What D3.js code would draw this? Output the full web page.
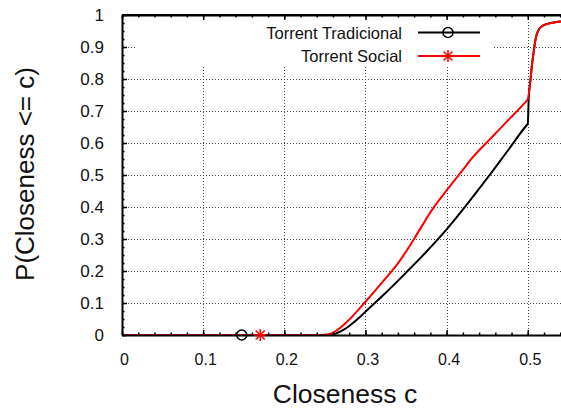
<!DOCTYPE html>
<html>
<head>
<meta charset="utf-8">
<script src="https://cdn.jsdelivr.net/npm/d3@7"></script>
<style>
	body { margin: 0; background: #fff; }
	text { font-family: "Liberation Sans", Arial, Helvetica, sans-serif; fill: #111; }
</style>
</head>
<body>
<script>
// CDF of closeness, gnuplot style
const width = 561;
const height = 408;
const plot = {left: 122, top: 15, bottom: 335, pxPerUnit: 811.6};

const xTicks = [0, 0.1, 0.2, 0.3, 0.4, 0.5];
const yTicks = [0, 0.1, 0.2, 0.3, 0.4, 0.5, 0.6, 0.7, 0.8, 0.9, 1];

const seriesNames = ['Torrent Tradicional', 'Torrent Social'];
const seriesColors = ['#000000', '#ff0000'];

const tradX = [0, 0.25, 0.258, 0.27, 0.28, 0.29, 0.3, 0.325, 0.35, 0.375, 0.4, 0.425, 0.45, 0.475, 0.499, 0.5, 0.5012, 0.503, 0.505, 0.507, 0.51, 0.513, 0.518, 0.525, 0.535, 0.55, 0.58];
const tradY = [0, 0, 0.001, 0.012, 0.028, 0.049, 0.073, 0.132, 0.195, 0.26, 0.33, 0.408, 0.49, 0.575, 0.657, 0.66, 0.745, 0.79, 0.84, 0.88, 0.93, 0.952, 0.966, 0.973, 0.978, 0.981, 0.982];

const socialX = [0, 0.245, 0.25, 0.256, 0.265, 0.28, 0.3, 0.32, 0.342, 0.36, 0.383, 0.4, 0.42, 0.431, 0.45, 0.475, 0.499, 0.5, 0.503, 0.505, 0.507, 0.51, 0.513, 0.518, 0.525, 0.535, 0.55, 0.58];
const socialY = [0, 0, 0.001, 0.003, 0.015, 0.048, 0.104, 0.163, 0.231, 0.301, 0.395, 0.452, 0.516, 0.552, 0.603, 0.669, 0.733, 0.736, 0.79, 0.84, 0.88, 0.93, 0.952, 0.966, 0.973, 0.978, 0.981, 0.982];

// single point markers shown on each curve
const markerX = [0.1475, 0.1703];
const markerY = [0, 0];

const svg = d3.select('body')
	.append('svg')
	.attr('width', width)
	.attr('height', height);

const x = d3.scaleLinear()
	.domain([0, 0.6])
	.range([plot.left, plot.left + plot.pxPerUnit * 0.6]);

const y = d3.scaleLinear()
	.domain([0, 1])
	.range([plot.bottom, plot.top]);

// Grid
const grid = svg.append('g')
	.attr('stroke', '#444')
	.attr('stroke-width', 1)
	.attr('stroke-dasharray', '1,2');
grid.selectAll('line.vx')
	.data(xTicks.filter(d => d > 0))
	.join('line')
	.attr('x1', d => Math.round(x(d)) + 0.5).attr('x2', d => Math.round(x(d)) + 0.5)
	.attr('y1', y(0)).attr('y2', y(1));
grid.selectAll('line.hy')
	.data(yTicks.filter(d => d > 0 && d < 1))
	.join('line')
	.attr('x1', x(0)).attr('x2', width)
	.attr('y1', d => Math.round(y(d)) + 0.5).attr('y2', d => Math.round(y(d)) + 0.5);

// Legend background covers the grid
svg.append('rect')
	.attr('x', 136).attr('y', plot.top + 1)
	.attr('width', 357).attr('height', 51)
	.attr('fill', '#fff');

// Curves
svg.append('clipPath').attr('id', 'clip')
	.append('rect')
	.attr('x', plot.left).attr('y', plot.top)
	.attr('width', width - plot.left).attr('height', plot.bottom - plot.top + 2);

const line = d3.line()
	.x(d => x(d[0]))
	.y(d => y(d[1]))
	.curve(d3.curveMonotoneX);

const series = [
	d3.zip(tradX, tradY),
	d3.zip(socialX, socialY)
];

svg.append('g')
	.attr('clip-path', 'url(#clip)')
	.selectAll('path')
	.data(series)
	.join('path')
	.attr('d', line)
	.attr('fill', 'none')
	.attr('stroke', (d, i) => seriesColors[i])
	.attr('stroke-width', 2)
	.attr('stroke-linejoin', 'round');

// Axes (ticks point inward)
const fmt = d => String(d);
const minorX = d3.range(0, 0.601, 0.02);
const minorY = d3.range(0, 1.001, 0.025);

svg.append('g')
	.attr('transform', `translate(0,${plot.bottom})`)
	.call(d3.axisBottom(x).tickValues(minorX).tickSize(-2.5).tickSizeOuter(0).tickFormat(''))
	.call(g => g.select('.domain').remove());
svg.append('g')
	.attr('transform', `translate(0,${plot.top})`)
	.call(d3.axisTop(x).tickValues(minorX).tickSize(-2.5).tickSizeOuter(0).tickFormat(''))
	.call(g => g.select('.domain').remove());
svg.append('g')
	.attr('transform', `translate(${plot.left},0)`)
	.call(d3.axisLeft(y).tickValues(minorY).tickSize(-2.5).tickSizeOuter(0).tickFormat(''))
	.call(g => g.select('.domain').remove());

const xAxis = svg.append('g')
	.attr('transform', `translate(0,${plot.bottom})`)
	.call(d3.axisBottom(x).tickValues(xTicks).tickSize(-5).tickSizeOuter(0).tickPadding(19).tickFormat(fmt));
xAxis.selectAll('text').attr('dx', 2).style('font-size', '16px');

svg.append('g')
	.attr('transform', `translate(0,${plot.top})`)
	.call(d3.axisTop(x).tickValues(xTicks).tickSize(-5).tickSizeOuter(0).tickFormat(''));

const yAxis = svg.append('g')
	.attr('transform', `translate(${plot.left},0)`)
	.call(d3.axisLeft(y).tickValues(yTicks).tickSize(-5).tickSizeOuter(0).tickPadding(18).tickFormat(fmt));
yAxis.selectAll('text').style('font-size', '17px');

svg.selectAll('.domain').attr('stroke', '#000').attr('stroke-width', 2);
svg.selectAll('.tick line').attr('stroke', '#000').attr('stroke-width', 1.5);

// Frame lines
svg.append('line')
	.attr('x1', plot.left).attr('x2', width)
	.attr('y1', plot.top).attr('y2', plot.top)
	.attr('stroke', '#000').attr('stroke-width', 2);

// Markers
function drawMarker(g, type, color, cx, cy) {
	if (type === 0) {
		g.append('circle')
			.attr('cx', cx).attr('cy', cy).attr('r', 5)
			.attr('fill', 'none').attr('stroke', color).attr('stroke-width', 1.5);
	} else {
		const r = 6, q = 4.5;
		g.append('path')
			.attr('d', `M${cx - r},${cy}H${cx + r}M${cx},${cy - r}V${cy + r}` +
				`M${cx - q},${cy - q}L${cx + q},${cy + q}M${cx - q},${cy + q}L${cx + q},${cy - q}`)
			.attr('fill', 'none').attr('stroke', color).attr('stroke-width', 1.5);
	}
}

const markers = svg.append('g');
markerX.forEach((mx, i) => drawMarker(markers, i, seriesColors[i], x(mx), y(markerY[i])));

// Legend
const legend = svg.append('g');
seriesNames.forEach((name, i) => {
	const ly = 32.5 + i * 23.5;
	legend.append('text')
		.attr('x', 402).attr('y', ly + 6)
		.attr('text-anchor', 'end')
		.style('font-size', '16.5px')
		.text(name);
	legend.append('line')
		.attr('x1', 418).attr('x2', 480)
		.attr('y1', ly).attr('y2', ly)
		.attr('stroke', seriesColors[i]).attr('stroke-width', 2);
	drawMarker(legend, i, seriesColors[i], 448, ly);
});

// Axis titles
svg.append('text')
	.attr('x', 345).attr('y', 403)
	.attr('text-anchor', 'middle')
	.style('font-size', '26.5px')
	.text('Closeness c');

svg.append('text')
	.attr('transform', 'translate(34,174) rotate(-90)')
	.attr('text-anchor', 'middle')
	.style('font-size', '26px')
	.text('P(Closeness <= c)');
</script>
</body>
</html>
